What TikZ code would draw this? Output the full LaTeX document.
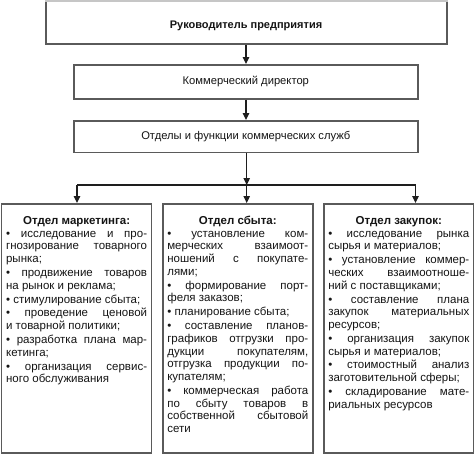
\documentclass[tikz,border=0pt]{standalone}
\usepackage{fontspec}
\setmainfont{Liberation Sans}
\newfontfamily\bodyff{Liberation Sans}
\usetikzlibrary{arrows.meta}
\definecolor{boxc}{HTML}{5A5A5A}
\definecolor{linec}{HTML}{1E1E1E}
\definecolor{txtc}{HTML}{151515}
\newcommand\jl[1]{\makebox[\linewidth][s]{#1}\\}
\newcommand\parl[1]{\mbox{#1}\\[1.2pt]}
\newcommand\lastl[1]{\mbox{#1}}
\newcommand\bodyfont{\bodyff\fontsize{11.5}{12.7}\selectfont}
\newcommand\headl[1]{\makebox[\linewidth]{\rule{0pt}{16.5pt}\textbf{#1}}\\[0.1pt]}
\tikzset{
  box/.style={draw=boxc, line width=1.6pt, fill=white, text=txtc, inner sep=0pt},
  dept/.style={draw=boxc, line width=1.6pt, fill=white, text=txtc, inner xsep=4.5pt, inner ysep=4pt, anchor=north west},
  conn/.style={draw=linec, line width=1.1pt},
  arr/.style={conn, -{Triangle[length=7pt,width=6.5pt]}}
}
\begin{document}
\begin{tikzpicture}[x=1pt,y=-1pt]
\useasboundingbox (0,0) rectangle (474,455);
% top box
\node[box, anchor=north west, minimum width=401pt, minimum height=42.5pt] (head) at (45,0.8) {};
\node[text=txtc, font=\fontsize{11}{13}\selectfont\bfseries] (headt) at (246,25.5) {Руководитель предприятия};
\draw[gray!45, line width=1.6pt] (head.north west) -- (head.north east);
% director
\node[box, anchor=north west, minimum width=344pt, minimum height=34pt, font=\fontsize{11.2}{13}\selectfont] (dir) at (73,64) {Коммерческий директор};
% services
\node[box, anchor=north west, minimum width=344pt, minimum height=31.5pt, font=\fontsize{11.2}{13}\selectfont] (serv) at (73,120) {Отделы и функции коммерческих служб};
% departments
\node[dept] (mkt) at (0.8,203) {\parbox[t][241pt][t]{141pt}{\bodyfont
\headl{Отдел маркетинга:}
\jl{• исследование и про-}
\jl{гнозирование товарного}
\parl{рынка;}
\jl{• продвижение товаров}
\parl{на рынок и реклама;}
\parl{• стимулирование сбыта;}
\jl{• проведение ценовой}
\parl{и товарной политики;}
\jl{• разработка плана мар-}
\parl{кетинга;}
\jl{• организация сервис-}
\lastl{ного обслуживания}}};
\node[dept] (sales) at (162,203) {\parbox[t][241pt][t]{141pt}{\bodyfont
\headl{Отдел сбыта:}
\jl{• установление ком-}
\jl{мерческих взаимоот-}
\jl{ношений с покупате-}
\parl{лями;}
\jl{• формирование порт-}
\parl{феля заказов;}
\parl{• планирование сбыта;}
\jl{• составление планов-}
\jl{графиков отгрузки про-}
\jl{дукции покупателям,}
\jl{отгрузка продукции по-}
\parl{купателям;}
\jl{• коммерческая работа}
\jl{по сбыту товаров в}
\jl{собственной сбытовой}
\lastl{сети}}};
\node[dept] (purch) at (323,203) {\parbox[t][241pt][t]{141pt}{\bodyfont
\headl{Отдел закупок:}
\jl{• исследование рынка}
\parl{сырья и материалов;}
\jl{• установление коммер-}
\jl{ческих взаимоотноше-}
\parl{ний с поставщиками;}
\jl{• составление плана}
\jl{закупок материальных}
\parl{ресурсов;}
\jl{• организация закупок}
\parl{сырья и материалов;}
\jl{• стоимостный анализ}
\parl{заготовительной сферы;}
\jl{• складирование мате-}
\lastl{риальных ресурсов}}};
% connectors
\coordinate (hc) at (246.7,185);
\coordinate (hl) at (77,185);
\coordinate (hr) at (415.5,185);
\draw[arr] (head.south -| headt) -- (dir.north -| headt);
\draw[arr] (dir.south -| headt) -- (serv.north -| headt);
\draw[arr] (serv.south -| hc) -- (hc);
\draw[conn] (hl) -- (hr);
\draw[arr] (hl) -- (hl |- mkt.north);
\draw[arr] (hc) -- (hc |- sales.north);
\draw[arr] (hr) -- (hr |- purch.north);
\end{tikzpicture}
\end{document}
